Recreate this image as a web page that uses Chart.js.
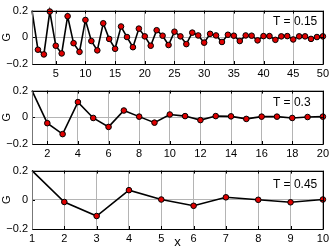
<!DOCTYPE html>
<html>
<head>
<meta charset="utf-8">
<script src="https://cdn.jsdelivr.net/npm/chart.js@4.4.1/dist/chart.umd.min.js"></script>
<style>
  body { margin: 0; background: #fff; width: 332px; height: 250px; overflow: hidden; }
  canvas { display: block; position: absolute; left: 0; }
</style>
</head>
<body>
<canvas id="c1" width="332" height="80" style="top:0px"></canvas>
<canvas id="c2" width="332" height="80" style="top:80px"></canvas>
<canvas id="c3" width="332" height="90" style="top:160px"></canvas>
<script>
// panel 1, T = 0.15
var lags1 = [1, 2, 3, 4, 5, 6, 7, 8, 9, 10, 11, 12, 13, 14, 15, 16, 17, 18, 19, 20,
             21, 22, 23, 24, 25, 26, 27, 28, 29, 30, 31, 32, 33, 34, 35, 36, 37, 38, 39, 40,
             41, 42, 43, 44, 45, 46, 47, 48, 49, 50];
var g1 = [0.2, -0.093, -0.128, 0.193, -0.063, -0.121, 0.158, -0.044, -0.109, 0.130,
          -0.028, -0.098, 0.105, -0.012, -0.086, 0.081, 0.002, -0.074, 0.065, 0.007,
          -0.063, 0.053, 0.012, -0.058, 0.042, 0.007, -0.051, 0.035, 0.014, -0.040,
          0.026, 0.014, -0.035, 0.019, 0.012, -0.028, 0.014, 0.012, -0.023, 0.009,
          0.009, -0.019, 0.007, 0.009, -0.016, 0.007, 0.007, -0.012, 0.002, 0.007];
var xTicks1 = [5, 10, 15, 20, 25, 30, 35, 40, 45, 50];

// panel 2, T = 0.3
var lags2 = [1, 2, 3, 4, 5, 6, 7, 8, 9, 10, 11, 12, 13, 14, 15, 16, 17, 18, 19, 20];
var g2 = [0.2, -0.044, -0.126, 0.114, -0.005, -0.072, 0.051, 0.005, -0.040, 0.021,
          0.009, -0.021, 0.009, 0.007, -0.012, 0.005, 0.005, -0.005, 0.002, 0.005];
var xTicks2 = [2, 4, 6, 8, 10, 12, 14, 16, 18, 20];

// panel 3, T = 0.45
var lags3 = [1, 2, 3, 4, 5, 6, 7, 8, 9, 10];
var g3 = [0.2, -0.015, -0.111, 0.066, 0.002, -0.041, 0.017, 0.0, -0.017, 0.002];
var xTicks3 = [1, 2, 3, 4, 5, 6, 7, 8, 9, 10];

var yTicks = [-0.2, 0, 0.2];
var tLabels = ['T = 0.15', 'T = 0.3', 'T = 0.45'];

var FONT = '"Liberation Sans", Arial, sans-serif';

// box round the plot, inward ticks and the T label
var framePlugin = {
    id: 'frame',
    afterDraw: function(chart, args, o) {
        const ctx = chart.ctx;
        const a = chart.chartArea;
        const xs = chart.scales.x, ys = chart.scales.y;
        ctx.save();
        ctx.lineWidth = 1;
        ctx.strokeStyle = '#000';
        ctx.beginPath();
        xs.ticks.forEach(function(t) {
            const px = Math.round(xs.getPixelForValue(t.value)) + 0.5;
            ctx.moveTo(px, a.bottom); ctx.lineTo(px, a.bottom - 3);
            ctx.moveTo(px, a.top); ctx.lineTo(px, a.top + 3);
        });
        ys.ticks.forEach(function(t) {
            const py = Math.round(ys.getPixelForValue(t.value)) + 0.5;
            ctx.moveTo(a.left, py); ctx.lineTo(a.left + 3, py);
            ctx.moveTo(a.right, py); ctx.lineTo(a.right - 3, py);
        });
        ctx.stroke();

        const l = Math.round(a.left) + 0.5, r = Math.round(a.right) + 0.5;
        const t = Math.round(a.top) + 0.5, b = Math.round(a.bottom) + 0.5;
        ctx.beginPath();
        ctx.moveTo(l, b); ctx.lineTo(r, b); ctx.lineTo(r, t); ctx.lineTo(l, t);
        ctx.stroke();
        ctx.strokeStyle = '#777';
        ctx.beginPath();
        ctx.moveTo(l, t); ctx.lineTo(l, b);
        ctx.stroke();

        ctx.fillStyle = '#000';
        ctx.font = '12px ' + FONT;
        ctx.textAlign = 'left';
        ctx.textBaseline = 'middle';
        ctx.fillText(o.text, a.right - 50, a.top + o.dy);
        ctx.restore();
    }
};

function fmtY(v) {
    if (v < 0) return '\u2212' + Math.abs(v);
    return String(v);
}

function makeChart(id, lags, vals, xTicks, tText, opts) {
    const ctx = document.getElementById(id);
    const pts = lags.map(function(x, i) { return { x: x, y: vals[i] }; });

    return new Chart(ctx, {
        type: 'line',
        data: {
            datasets: [{
                data: pts,
                borderColor: '#000',
                borderWidth: 1.6,
                tension: 0,
                fill: false,
                clip: false,
                pointRadius: function(c) { return c.dataIndex === 0 ? 0 : 2.8; },
                pointBackgroundColor: '#e00000',
                pointBorderColor: '#000',
                pointBorderWidth: 1
            }]
        },
        options: {
            responsive: false,
            animation: false,
            events: [],
            layout: { padding: { top: opts.top, right: 9, left: 0, bottom: 0 } },
            plugins: {
                legend: { display: false },
                tooltip: { enabled: false },
                frame: { text: tText, dy: opts.dy }
            },
            scales: {
                x: {
                    type: 'linear',
                    min: lags[0],
                    max: lags[lags.length - 1],
                    afterBuildTicks: function(s) {
                        s.ticks = xTicks.map(function(v) { return { value: v }; });
                    },
                    afterFit: function(s) { s.height = opts.xh; },
                    border: { display: false },
                    grid: {
                        color: '#b4b4b4',
                        lineWidth: 1,
                        drawTicks: false,
                        dash: [1, 2]
                    },
                    ticks: {
                        padding: 3,
                        maxRotation: 0,
                        autoSkip: false,
                        color: '#000',
                        font: { family: FONT, size: 11 }
                    },
                    title: {
                        display: opts.xTitle,
                        text: 'x',
                        color: '#000',
                        padding: 0,
                        font: { family: FONT, size: 13 }
                    }
                },
                y: {
                    min: -0.2,
                    max: 0.2,
                    afterBuildTicks: function(s) {
                        s.ticks = yTicks.map(function(v) { return { value: v }; });
                    },
                    afterFit: function(s) { s.width = 32; },
                    border: { display: false },
                    grid: {
                        color: '#b4b4b4',
                        lineWidth: 1,
                        drawTicks: false,
                        dash: [1, 2]
                    },
                    ticks: {
                        padding: 4,
                        color: '#000',
                        font: { family: FONT, size: 11 },
                        callback: fmtY
                    },
                    title: {
                        display: true,
                        text: 'G',
                        color: '#000',
                        padding: 0,
                        font: { family: FONT, size: 11 }
                    }
                }
            }
        },
        plugins: [framePlugin]
    });
}

makeChart('c1', lags1, g1, xTicks1, tLabels[0], { top: 5, xh: 16, dy: 11, xTitle: false });
makeChart('c2', lags2, g2, xTicks2, tLabels[1], { top: 6, xh: 16, dy: 12, xTitle: false });
makeChart('c3', lags3, g3, xTicks3, tLabels[2], { top: 7, xh: 21, dy: 14, xTitle: true });
</script>
</body>
</html>
